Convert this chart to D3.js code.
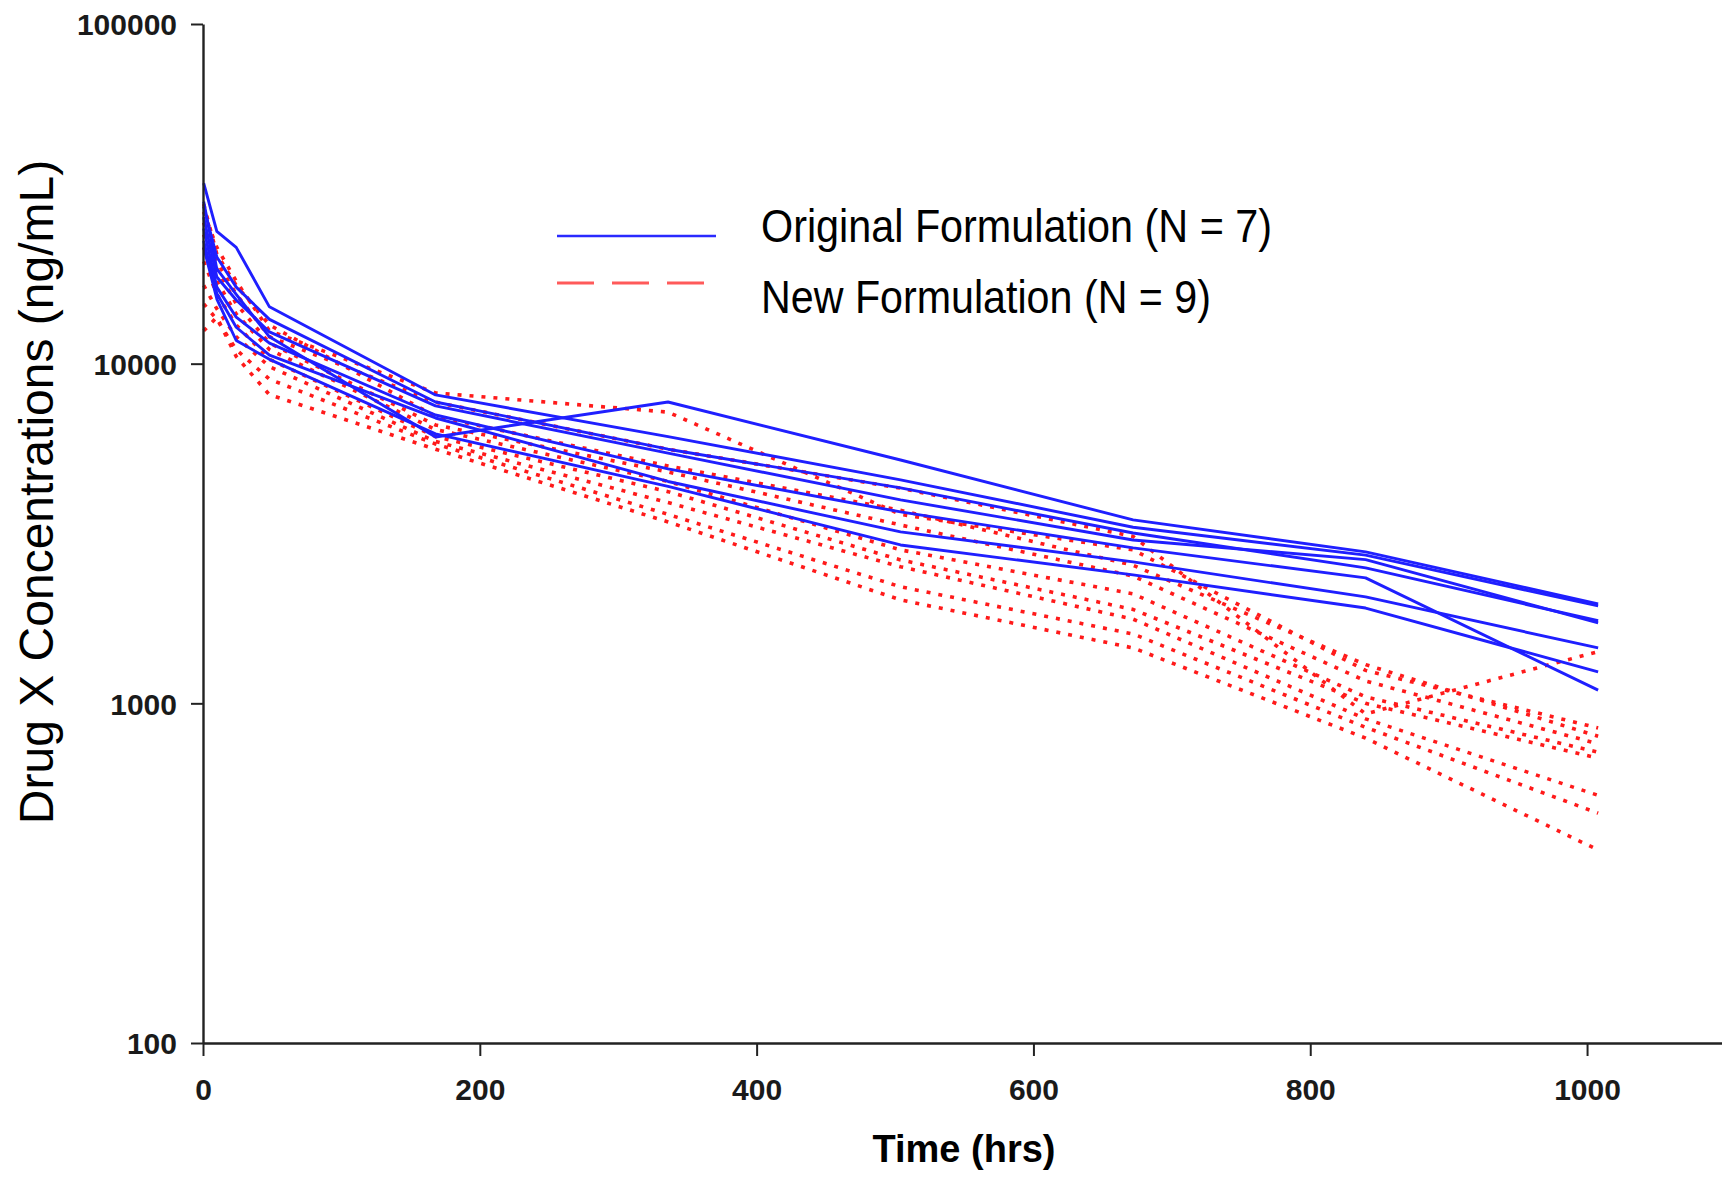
<!doctype html>
<html>
<head>
<meta charset="utf-8">
<script src="https://cdn.jsdelivr.net/npm/d3@7"></script>
<style>
  body { margin: 0; background: #fff; }
  svg { display: block; font-family: "Liberation Sans", Arial, sans-serif; }
</style>
</head>
<body>
<svg width="1722" height="1177"></svg>
<script>
// sampling times (hrs)
var times = [0.5, 10, 24, 48, 168, 336, 504, 672, 840, 1008];

// Original formulation, 7 subjects (ng/mL)
var original = [
  [34000, 24500, 22000, 14700, 8090, 6100, 4550, 3300, 2730, 1935],
  [30000, 19000, 16000, 12000, 6085, 7710, 5205, 3467, 2793, 1963],
  [29000, 20600, 16800, 13500, 7710, 5600, 4307, 3174, 2506, 1750],
  [27000, 18000, 15400, 12400, 7510, 5450, 3971, 3027, 2650, 1726],
  [25000, 16800, 13700, 11500, 7060, 4900, 3660, 2868, 2340, 1094],
  [23000, 16100, 12800, 10600, 6920, 4500, 3196, 2608, 2057, 1456],
  [22000, 15500, 11700, 10300, 6210, 4350, 2926, 2388, 1908, 1237]
];

// New formulation, 9 subjects (ng/mL)
var newForm = [
  [28000, 22000, 17500, 12500, 8200, 7200, 3600, 2830, 1250, 846],
  [26000, 20000, 16000, 12000, 7700, 5600, 4300, 3100, 931, 1420],
  [29500, 21000, 17000, 13000, 7000, 5000, 3700, 2550, 1300, 800],
  [24000, 19000, 15000, 11500, 6600, 4800, 3350, 2370, 1164, 760],
  [22000, 17500, 14000, 11000, 6400, 4500, 2830, 2100, 1045, 718],
  [20000, 16000, 13000, 10300, 6100, 4200, 2644, 1890, 1000, 690],
  [17000, 14500, 12000, 9800, 5900, 3900, 2524, 1770, 900, 536],
  [15000, 13500, 11000, 9000, 5800, 3600, 2204, 1600, 850, 475],
  [12500, 13700, 10500, 8100, 5600, 3420, 2016, 1456, 790, 370]
];

var xTicks = [0, 200, 400, 600, 800, 1000];
var yTicks = [100, 1000, 10000, 100000];
var legendLabels = ["Original Formulation (N = 7)", "New Formulation (N = 9)"];

var svg = d3.select("svg"),
    width = +svg.attr("width"),
    height = +svg.attr("height");

var margin = {left: 203, top: 24, right: 0, bottom: 134};

var x = d3.scaleLinear()
  .domain([0, 1097.5])
  .range([margin.left, width - margin.right]);

var y = d3.scaleLog()
  .domain([100, 100000])
  .range([height - margin.bottom, margin.top]);

var line = d3.line()
  .x(function(d, i) { return x(times[i]); })
  .y(function(d) { return y(d); });

// new formulation (red dotted) underneath
svg.append("g")
  .selectAll("path")
  .data(newForm).enter()
  .append("path")
    .attr("d", line)
    .attr("fill", "none")
    .attr("stroke", "#ff1a1a")
    .attr("stroke-width", 3.6)
    .attr("stroke-dasharray", "4,8");

// original formulation (blue solid)
svg.append("g")
  .selectAll("path")
  .data(original).enter()
  .append("path")
    .attr("d", line)
    .attr("fill", "none")
    .attr("stroke", "#1f1fff")
    .attr("stroke-width", 2.9)
    .attr("stroke-linejoin", "round");

// axes
var xAxis = svg.append("g")
  .attr("transform", "translate(0," + y(100) + ")")
  .call(d3.axisBottom(x).tickValues(xTicks).tickFormat(d3.format("d"))
    .tickSize(13).tickSizeOuter(0).tickPadding(23));

var yAxis = svg.append("g")
  .attr("transform", "translate(" + x(0) + ",0)")
  .call(d3.axisLeft(y).tickValues(yTicks).tickFormat(d3.format("d"))
    .tickSize(12).tickSizeOuter(0).tickPadding(14));

[xAxis, yAxis].forEach(function(g) {
  g.select(".domain").attr("stroke", "#222").attr("stroke-width", 2.4);
  g.selectAll(".tick line").attr("stroke", "#222").attr("stroke-width", 2);
  g.selectAll(".tick text")
    .attr("fill", "#1a1a1a")
    .style("font-family", "'Liberation Sans', Arial, sans-serif")
    .style("font-size", "30px")
    .style("font-weight", "bold");
});
yAxis.selectAll(".tick text").attr("dy", "0.36em");

// axis titles
svg.append("text")
  .attr("x", 964)
  .attr("y", 1162)
  .attr("text-anchor", "middle")
  .style("font-size", "38px")
  .style("font-weight", "bold")
  .text("Time (hrs)");

svg.append("text")
  .attr("transform", "translate(53,492) rotate(-90)")
  .attr("text-anchor", "middle")
  .style("font-size", "48px")
  .text("Drug X Concentrations (ng/mL)");

// legend
var legend = svg.append("g");
legend.append("line")
  .attr("x1", 557).attr("x2", 716)
  .attr("y1", 236).attr("y2", 236)
  .attr("stroke", "#2a2aff")
  .attr("stroke-width", 2.4);
legend.append("line")
  .attr("x1", 557).attr("x2", 704)
  .attr("y1", 283).attr("y2", 283)
  .attr("stroke", "#ff5a5a")
  .attr("stroke-width", 3)
  .attr("stroke-dasharray", "37,18");

legend.selectAll("text")
  .data(legendLabels).enter()
  .append("text")
    .attr("x", 761)
    .attr("y", function(d, i) { return 242 + i * 71; })
    .attr("textLength", function(d, i) { return i === 0 ? 511 : 450; })
    .attr("lengthAdjust", "spacingAndGlyphs")
    .style("font-size", "46px")
    .text(function(d) { return d; });
</script>
</body>
</html>
